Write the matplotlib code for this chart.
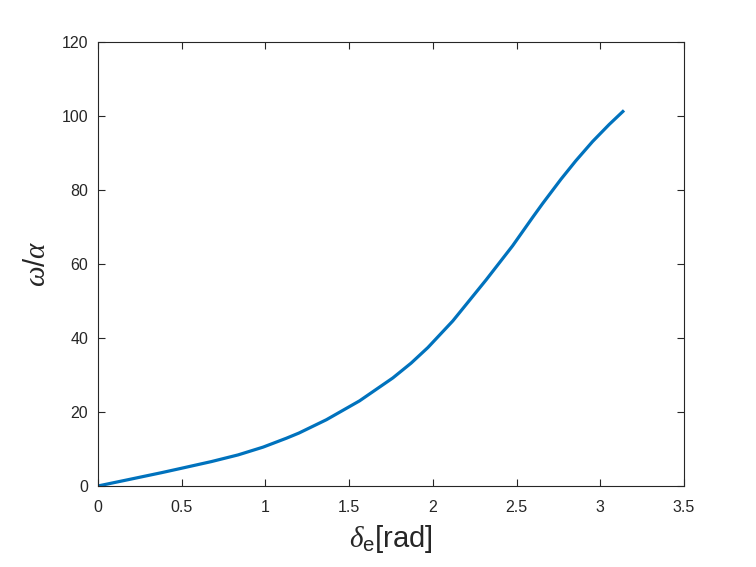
import numpy as np
import matplotlib
matplotlib.use("Agg")
import matplotlib.pyplot as plt

# values
delta_e = [0.0, 0.18, 0.38, 0.5, 0.678, 0.837, 0.986, 1.125, 1.2, 1.364, 1.562,
           1.761, 1.87, 1.97, 2.119, 2.318, 2.476, 2.596, 2.655, 2.765, 2.854,
           2.954, 3.053, 3.1416]
omega_alpha = [0.0, 1.7, 3.6, 4.8, 6.6, 8.4, 10.5, 12.9, 14.3, 17.9, 23.0,
               29.2, 33.2, 37.4, 44.6, 55.7, 64.9, 72.6, 76.3, 82.9, 87.9,
               93.1, 97.7, 101.5]

xticks = [0, 0.5, 1, 1.5, 2, 2.5, 3, 3.5]
xtick_labels = ['0', '0.5', '1', '1.5', '2', '2.5', '3', '3.5']
yticks = [0, 20, 40, 60, 80, 100, 120]

plt.rcParams['font.family'] = ['Liberation Sans', 'DejaVu Sans']
plt.rcParams['mathtext.fontset'] = 'custom'
plt.rcParams['mathtext.rm'] = 'Liberation Sans'
plt.rcParams['mathtext.it'] = 'Liberation Serif:italic'

fig = plt.figure(figsize=(7.56, 5.67), dpi=100)
ax = fig.add_axes([0.1296, 0.1429, 0.7752, 0.7831])

ax.plot(delta_e, omega_alpha, color='#0072BD', linewidth=2.3,
        solid_joinstyle='round', solid_capstyle='butt')

ax.set_xlim(0, 3.5)
ax.set_ylim(0, 120)
ax.set_xticks(xticks)
ax.set_xticklabels(xtick_labels)
ax.set_yticks(yticks)

axis_color = '#262626'
for side in ax.spines.values():
    side.set_color(axis_color)
    side.set_linewidth(0.8)
ax.tick_params(direction='in', length=5, width=0.8, colors=axis_color,
               labelsize=11.5, top=True, right=True)
ax.tick_params(axis='x', pad=10)
ax.tick_params(axis='y', pad=7)

ax.set_xlabel(r'$\delta_{\mathrm{e}}$[rad]', fontsize=21, color=axis_color, labelpad=6)
ax.set_ylabel(r'$\omega/\alpha$', fontsize=21, color=axis_color, labelpad=8)

fig.savefig('out.png', dpi=100)
